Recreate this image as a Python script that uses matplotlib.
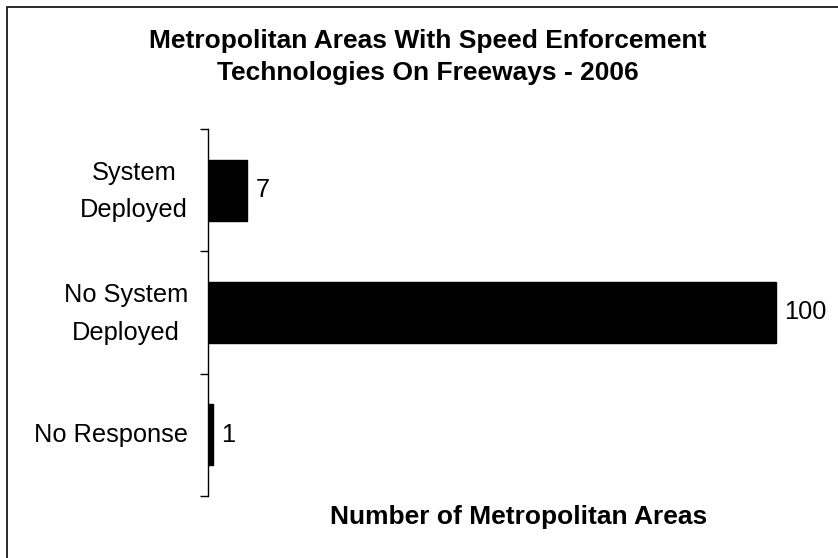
import matplotlib
matplotlib.use("Agg")
import matplotlib.pyplot as plt
from matplotlib.patches import Rectangle

categories = ["System\nDeployed", "No System\nDeployed", "No Response"]
values = [7, 100, 1]
title = "Metropolitan Areas With Speed Enforcement\nTechnologies On Freeways - 2006"
xlabel = "Number of Metropolitan Areas"

plt.rcParams['font.family'] = ['Liberation Sans', 'DejaVu Sans']

W, H = 838, 558
fig = plt.figure(figsize=(W / 100, H / 100), dpi=100)

# outer frame (cropped on right / bottom)
fig.patches.append(Rectangle((7 / W, -0.2), 1.5, 1.2 - 6.5 / H, transform=fig.transFigure,
                             fill=False, edgecolor='#1a1a1a', linewidth=1.3, zorder=0))

ax = fig.add_axes([207.5 / W, 1 - 496 / H, (831 - 207.5) / W, (496 - 129) / H])
ypos = list(range(len(categories)))
ax.barh(ypos, values, height=0.5, color='black', edgecolor='black')
ax.set_ylim(len(categories) - 0.5, -0.5)
ax.set_xlim(0, 109.7)

for s in ['top', 'right', 'bottom']:
    ax.spines[s].set_visible(False)
ax.spines['left'].set_linewidth(1.0)
ax.set_xticks([])
ax.set_yticks(ypos)
ax.set_yticklabels([])
ax.tick_params(axis='y', which='major', length=0)
ax.set_yticks([y - 0.5 for y in ypos] + [len(categories) - 0.5], minor=True)
ax.tick_params(axis='y', which='minor', length=6, width=1.0, direction='out')

# category labels
for y, lab in zip(ypos, categories):
    nl = lab.count("\n")
    ax.annotate(lab, xy=(0, y), xycoords=('axes fraction', 'data'),
                xytext=(-14, -1.0 * nl), textcoords='offset points',
                ha='right', va='center', multialignment='center',
                fontsize=18.3, linespacing=1.7, annotation_clip=False)

for y, v in zip(ypos, values):
    ax.annotate(str(v), xy=(v, y), xytext=(6, 0), textcoords='offset points',
                va='center', ha='left', fontsize=18.3)

fig.text(428 / W, 1 - 57 / H, title, ha='center', va='center', fontsize=19,
         fontweight='bold', linespacing=1.4)
fig.text(519 / W, 1 - 517 / H, xlabel, ha='center', va='center', fontsize=19,
         fontweight='bold')

fig.savefig("out.png", dpi=100)
